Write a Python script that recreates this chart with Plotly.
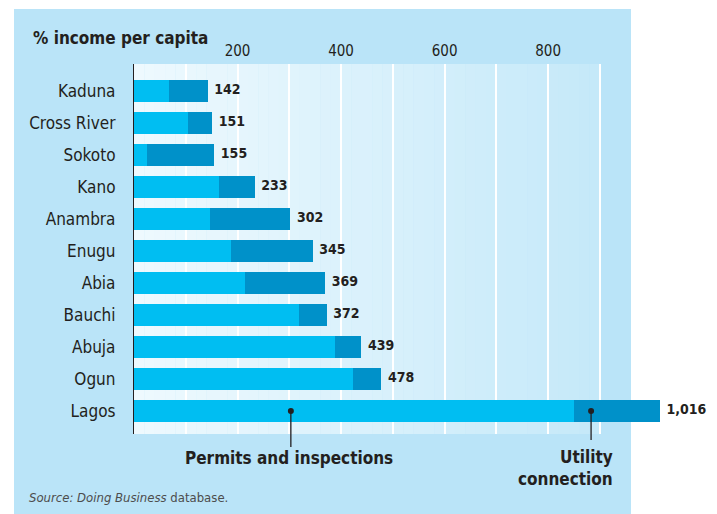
import plotly.graph_objects as go

states = ["Kaduna", "Cross River", "Sokoto", "Kano", "Anambra", "Enugu",
          "Abia", "Bauchi", "Abuja", "Ogun", "Lagos"]
totals = [142, 151, 155, 233, 302, 345, 369, 372, 439, 478, 1016]
permits = [67, 104, 25, 165, 146, 188, 215, 319, 388, 423, 850]
utility = [t - p for t, p in zip(totals, permits)]
tick_values = [100, 200, 300, 400, 500, 600, 700, 800, 900]
tick_labels = ["", "200", "", "400", "", "600", "", "800", ""]

PERMIT_C = "#00BEF2"
UTIL_C = "#0091C9"
PANEL = "#BAE4F8"
DARK = "#231F20"
COND = "DejaVu Sans Condensed, Liberation Sans Narrow, sans-serif"

L, R, T, B = 134, 11, 64, 80
W = 717 - L - R
H = 514 - T - B

def px_x(p):
    return (p - L) / W

def px_y(p):
    return (T + H - p) / H

fig = go.Figure()
fig.add_trace(go.Bar(y=states, x=permits, orientation="h", marker_color=PERMIT_C,
                     marker_line_width=0, width=0.70, name="Permits and inspections",
                     hoverinfo="x+y"))
fig.add_trace(go.Bar(y=states, x=utility, orientation="h", marker_color=UTIL_C,
                     marker_line_width=0, width=0.70, name="Utility connection",
                     hoverinfo="x+y"))
fig.add_trace(go.Scatter(y=states, x=totals, mode="markers+text",
                         marker=dict(size=9, opacity=0),
                         text=[f"{v:,}" for v in totals], textposition="middle right",
                         textfont=dict(family=COND, size=14, color=DARK, weight="bold"),
                         cliponaxis=False, hoverinfo="skip"))
# leader dots
fig.add_trace(go.Scatter(y=["Lagos", "Lagos"], x=[303, 883], mode="markers",
                         marker=dict(color=DARK, size=6), cliponaxis=False,
                         hoverinfo="skip"))

shapes = []
shapes.append(dict(type="rect", xref="paper", yref="paper",
                   x0=px_x(14), x1=px_x(631), y0=px_y(520), y1=px_y(9),
                   fillcolor=PANEL, line_width=0, layer="below"))
c0 = (238, 249, 254)
c1 = (197, 233, 249)
n = 45
for i in range(n):
    f = i / (n - 1)
    col = tuple(round(a + (b - a) * f) for a, b in zip(c0, c1))
    shapes.append(dict(type="rect", xref="x", yref="paper",
                       x0=900 * i / n, x1=900 * (i + 1) / n + 0.5, y0=0, y1=1,
                       fillcolor="rgb(%d,%d,%d)" % col, line_width=0, layer="below"))
y_lagos = px_y(411)
shapes.append(dict(type="line", xref="x", yref="paper", x0=303, x1=303,
                   y0=y_lagos, y1=px_y(447), line=dict(color=DARK, width=1.3)))
shapes.append(dict(type="line", xref="x", yref="paper", x0=883, x1=883,
                   y0=y_lagos, y1=px_y(440), line=dict(color=DARK, width=1.3)))

annotations = [
    dict(text="<b>% income per capita</b>", xref="paper", yref="paper",
         x=px_x(31), y=px_y(38), xanchor="left", yanchor="middle", showarrow=False,
         font=dict(family=COND, size=17, color=DARK)),
    dict(text="<b>Permits and inspections</b>", xref="x", yref="paper",
         x=300, y=px_y(458), xanchor="center", yanchor="middle", showarrow=False,
         font=dict(family=COND, size=17, color=DARK)),
    dict(text="<b>Utility<br>connection</b>", xref="paper", yref="paper",
         x=px_x(615), y=px_y(468), xanchor="right", yanchor="middle", align="right",
         showarrow=False, font=dict(family=COND, size=17, color=DARK)),
    dict(text="<i>Source: Doing Business</i> database.", xref="paper", yref="paper",
         x=px_x(27), y=px_y(497), xanchor="left", yanchor="middle", showarrow=False,
         font=dict(family=COND, size=13, color="#4D4D4D")),
]

fig.update_layout(
    width=717, height=514,
    margin=dict(l=L, r=R, t=T, b=B, pad=0),
    paper_bgcolor="white", plot_bgcolor="rgba(0,0,0,0)",
    barmode="stack", bargap=0.3, showlegend=False,
    shapes=shapes, annotations=annotations,
    xaxis=dict(range=[0, 1105], side="top", tickvals=tick_values, ticktext=tick_labels,
               showgrid=True, gridcolor="white", gridwidth=1.5, zeroline=False,
               showline=False, ticks="", ticklabelstandoff=4, automargin=False,
               tickfont=dict(family=COND, size=15, color=DARK)),
    yaxis=dict(categoryorder="array", categoryarray=states, range=[10.72, -0.84],
               showgrid=False, zeroline=False, showline=True, linecolor=DARK,
               linewidth=1.2, ticks="", ticklabelstandoff=14, automargin=False,
               tickfont=dict(family=COND, size=17, color=DARK)),
)

fig.write_html("out.html", config={"displayModeBar": False},
               post_script="document.body.style.margin='0';document.body.style.overflow='hidden';")
